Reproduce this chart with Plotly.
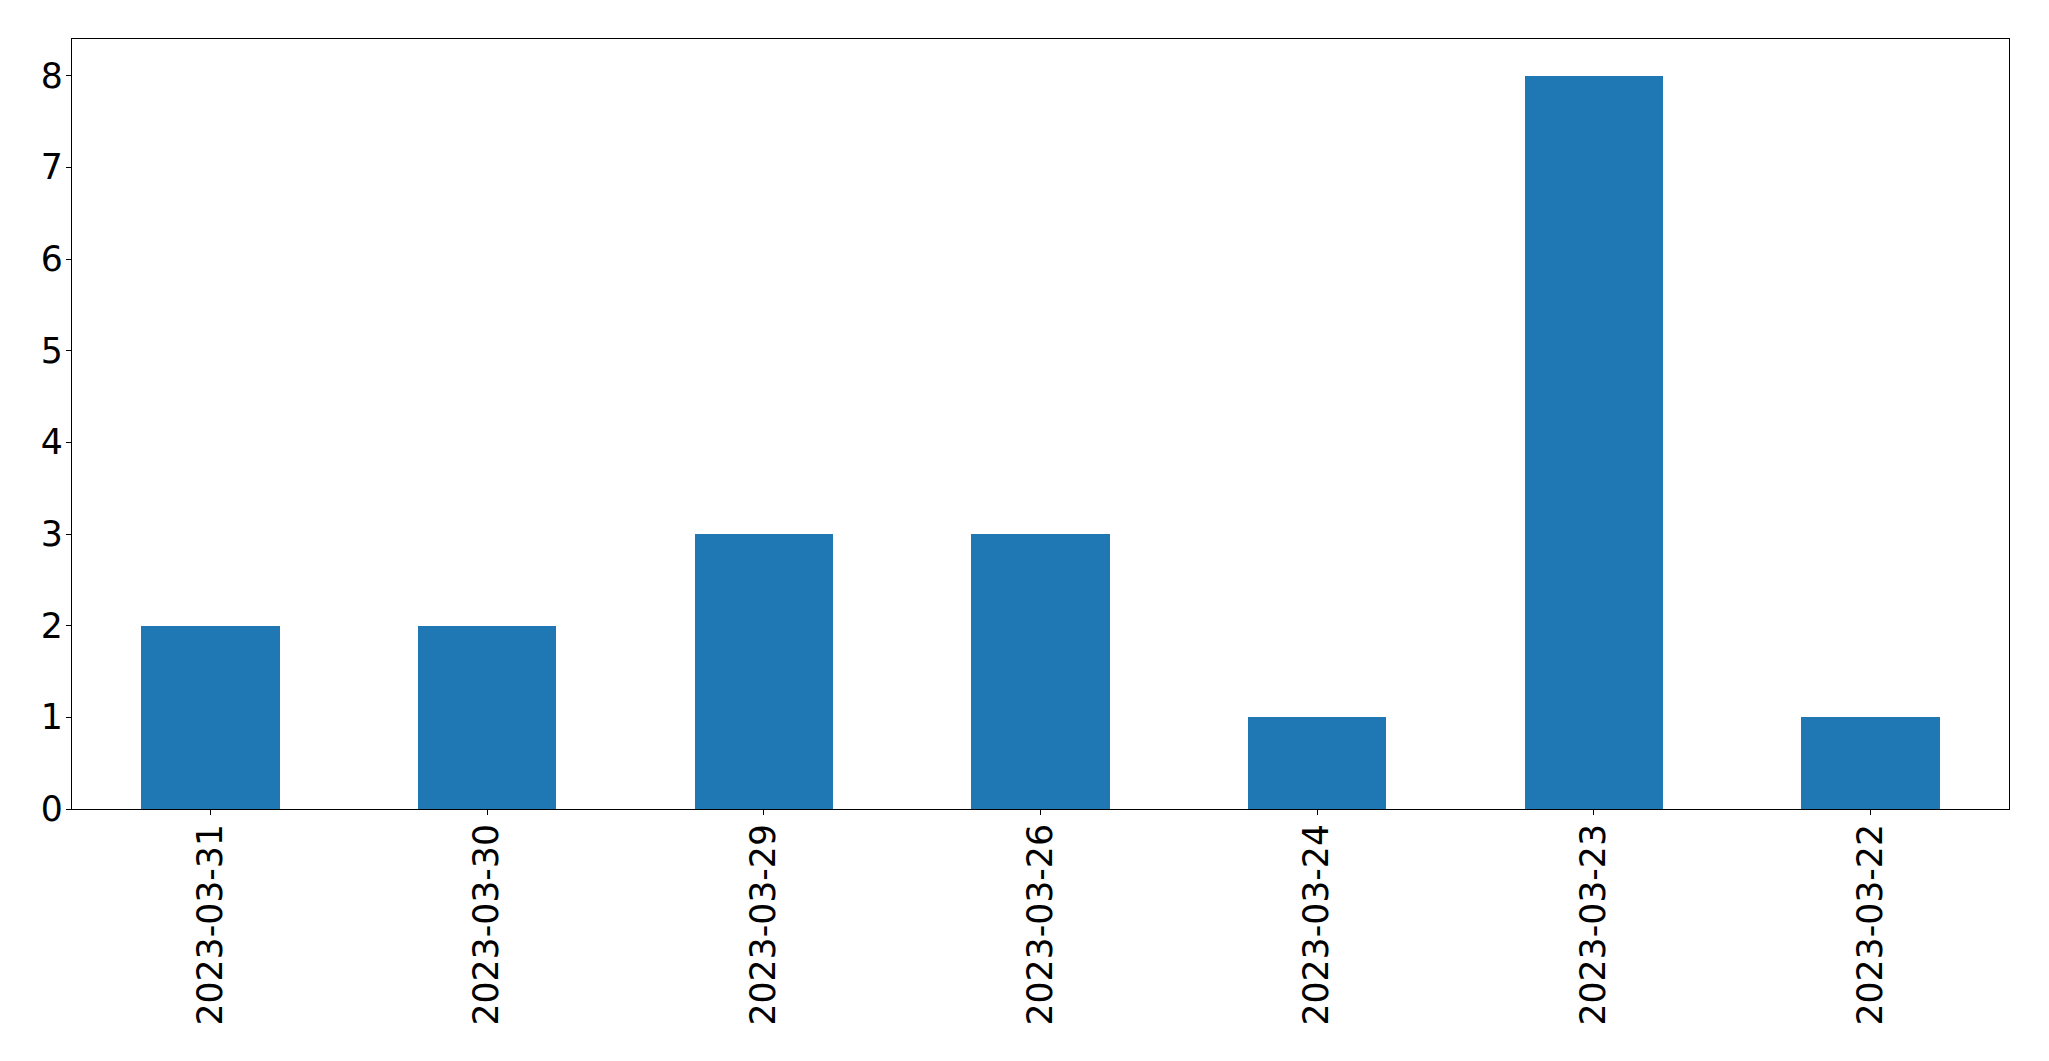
import plotly.graph_objects as go

dates = ["2023-03-31", "2023-03-30", "2023-03-29", "2023-03-26", "2023-03-24", "2023-03-23", "2023-03-22"]
counts = [2, 2, 3, 3, 1, 8, 1]
y_ticks = [0, 1, 2, 3, 4, 5, 6, 7, 8]

fig = go.Figure(go.Bar(x=dates, y=counts, width=0.5, marker=dict(color="#1f77b4", line=dict(width=0))))

axis_common = dict(showline=True, linecolor="black", linewidth=1.3, mirror=True,
                   ticks="outside", ticklen=5, tickwidth=1.3, tickcolor="black",
                   showgrid=False, zeroline=False,
                   tickfont=dict(family="DejaVu Sans", size=34.7, color="black"))

fig.update_layout(
    width=2033, height=1045,
    margin=dict(l=64, r=32, t=31, b=244),
    paper_bgcolor="white", plot_bgcolor="white",
    showlegend=False, bargap=0,
    xaxis=dict(type="category", range=[-0.5, 6.5], tickangle=-90, ticklabelstandoff=-5, **axis_common),
    yaxis=dict(range=[0, 8.4], tickvals=y_ticks, ticklabelstandoff=-4, **axis_common),
)

fig.write_html("out.html")
